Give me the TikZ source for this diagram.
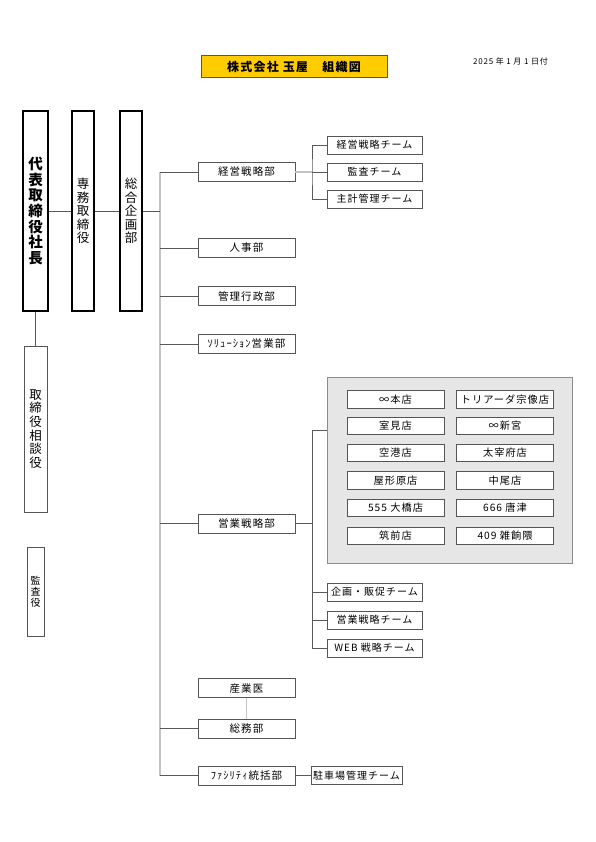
\documentclass[tikz,border=0pt]{standalone}
\usepackage{fontspec}
\setmainfont[LetterSpace=10]{Noto Sans CJK JP}
\usetikzlibrary{positioning,calc}

\definecolor{titleyellow}{HTML}{FFCC00}
\definecolor{linegray}{HTML}{C4C4C4}
\definecolor{boxgray}{HTML}{555555}
\definecolor{panelgray}{HTML}{E6E6E6}

\tikzset{
  topbox/.style={draw=black, line width=2pt, inner sep=0pt, minimum width=22pt, minimum height=200pt, align=center},
  sidebox/.style={draw=boxgray, line width=0.8pt, inner sep=0pt, align=center},
  deptbox/.style={draw=boxgray, line width=0.8pt, fill=white, inner sep=0pt, minimum width=97pt, minimum height=19pt, font=\fontsize{10.5}{12}\selectfont},
  teambox/.style={deptbox, minimum width=95pt, minimum height=18pt, font=\fontsize{10}{12}\selectfont},
  shopbox/.style={deptbox, minimum width=97pt, minimum height=17.5pt, font=\fontsize{10.2}{12}\selectfont},
  spine/.style={draw=linegray, line width=1.8pt},
  link/.style={draw=black!65, line width=0.7pt},
}

\begin{document}
\begin{tikzpicture}[x=1pt,y=-1pt]
  \useasboundingbox (0,0) rectangle (595,842);

  % title and date
  \node[draw=boxgray, line width=1pt, fill=titleyellow, minimum width=186pt, minimum height=22pt, inner sep=0pt,
        font=\bfseries\fontsize{12}{14}\selectfont] (title) at (294,67) {株式会社 玉屋　組織図};
  \node[font=\fontsize{8}{9}\selectfont] (date) at (510.5,61) {2025 年 1 月 1 日付};

  % top management
  \node[topbox, minimum width=25pt, font=\bfseries\fontsize{14.5}{15.7}\selectfont] (ceo) at (35.5,211) {代\\表\\取\\締\\役\\社\\長};
  \node[topbox, font=\fontsize{12.5}{13.6}\selectfont] (senmu) at (83,211) {専\\務\\取\\締\\役};
  \node[topbox, font=\fontsize{12.5}{13.6}\selectfont] (sogo) at (131,211) {総\\合\\企\\画\\部};

  \node[sidebox, minimum width=23pt, minimum height=166pt, font=\fontsize{12.5}{13.7}\selectfont] (sodan) at (35.5,429) {取\\締\\役\\相\\談\\役};
  \node[sidebox, minimum width=17pt, minimum height=89pt, font=\fontsize{10}{11}\selectfont] (kansa) at (35.5,591.5) {監\\査\\役};

  \draw[link] (ceo) -- (senmu);
  \draw[link] (senmu) -- (sogo);
  \draw[link] (ceo) -- (sodan);

  % spine
  \coordinate (sptop) at (160,172);
  \coordinate (spbot) at (160,775.5);
  \draw[spine] (sptop) -- (spbot);
  \draw[link] (sogo.east) -- (sogo.east -| sptop);

  % departments
  \node[deptbox] (keiei) at (246.5,172) {経営戦略部};
  \node[deptbox] (jinji) at (246.5,248) {人事部};
  \node[deptbox] (kanri) at (246.5,296) {管理行政部};
  \node[deptbox] (sol) at (246.5,344) {ｿﾘｭｰｼｮﾝ営業部};
  \node[deptbox] (eigyo) at (246.5,523.5) {営業戦略部};
  \node[deptbox] (sangyo) at (246.5,688) {産業医};
  \node[deptbox] (somu) at (246.5,728.5) {総務部};
  \node[deptbox] (fac) at (246.5,775.5) {ﾌｧｼﾘﾃｨ統括部};

  \foreach \d in {keiei,jinji,kanri,sol,eigyo,somu,fac}
    \draw[link] (\d.west) -- (\d.west -| sptop);
  \draw[spine] (sangyo) -- (somu);

  % teams of 経営戦略部
  \node[teambox] (kt1) at (374.5,145) {経営戦略チーム};
  \node[teambox] (kt2) at (374.5,172) {監査チーム};
  \node[teambox] (kt3) at (374.5,199) {主計管理チーム};
  \coordinate (kj) at (312,172);
  \draw[spine] (keiei.east) -- (kj);
  \draw[link] (kt1.west) -| (kj) |- (kt3.west);
  \draw[link] (kj) -- (kt2.west);

  % shops
  \node[draw=black!45, line width=0.8pt, fill=panelgray, minimum width=245pt, minimum height=186pt, inner sep=0pt] (shops) at (449.5,470) {};
  \foreach \n/\x/\y/\t in {s1/395.5/399.5/∞本店, s2/505/399.5/トリアーダ宗像店,
                           s3/395.5/426/室見店, s4/505/426/∞新宮,
                           s5/395.5/453/空港店, s6/505/453/太宰府店,
                           s7/395.5/480.5/屋形原店, s8/505/480.5/中尾店,
                           s9/395.5/508/555 大橋店, s10/505/508/666 唐津,
                           s11/395.5/536/筑前店, s12/505/536/409 雑餉隈}
    \node[shopbox] (\n) at (\x,\y) {\t};

  % teams of 営業戦略部
  \node[teambox] (et1) at (374.5,592) {企画・販促チーム};
  \node[teambox] (et2) at (374.5,620) {営業戦略チーム};
  \node[teambox] (et3) at (374.5,648) {WEB 戦略チーム};
  \coordinate (ep) at (312,430);
  \draw[link] (ep -| shops.west) -- (ep) |- (et3.west);
  \draw[link] (eigyo.east) -- (eigyo.east -| ep);
  \draw[link] (et1.west) -- (et1.west -| ep);
  \draw[link] (et2.west) -- (et2.west -| ep);

  % parking
  \node[teambox, minimum width=91pt] (park) at (356.5,775.5) {駐車場管理チーム};
  \draw[link] (fac) -- (park);
\end{tikzpicture}
\end{document}
